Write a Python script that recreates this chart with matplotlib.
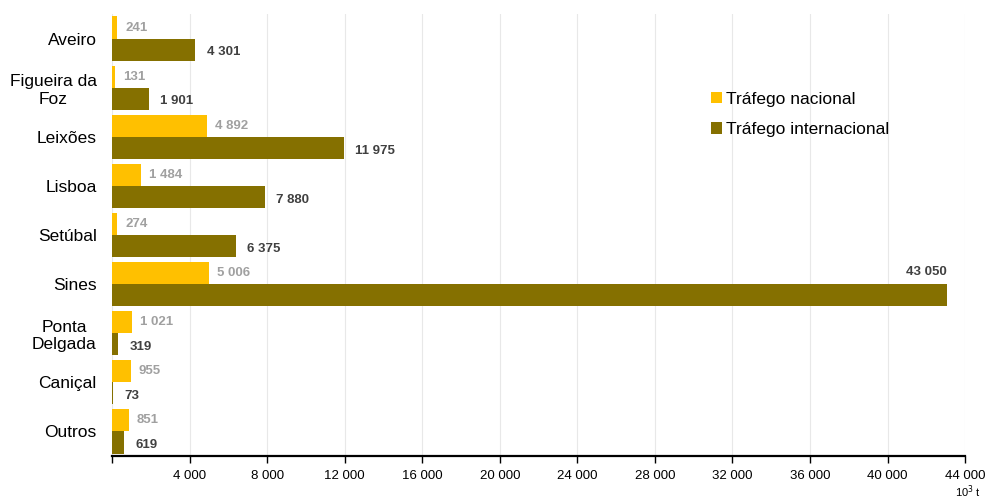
import matplotlib.pyplot as plt
import numpy as np

plt.rcParams['font.family'] = ['Liberation Sans', 'DejaVu Sans']

ports = ["Aveiro", "Figueira da\nFoz", "Leixões", "Lisboa", "Setúbal", "Sines",
         "Ponta\nDelgada", "Caniçal", "Outros"]
nacional = [241, 131, 4892, 1484, 274, 5006, 1021, 955, 851]
internacional = [4301, 1901, 11975, 7880, 6375, 43050, 319, 73, 619]
xticks = list(range(0, 44001, 4000))

c_nac = "#FFC000"
c_int = "#857000"


def fmt(v):
    return f"{v:,}".replace(",", " ")


fig = plt.figure(figsize=(9.86, 5.0), dpi=100)
ax = fig.add_axes([0.1136, 0.088, 0.8652, 0.884])

y = np.arange(len(ports))
h = 0.45
ax.barh(y - h / 2, nacional, height=h, color=c_nac, label="Tráfego nacional", zorder=2)
ax.barh(y + h / 2, internacional, height=h, color=c_int, label="Tráfego internacional", zorder=2)

for i, v in enumerate(nacional):
    ax.annotate(fmt(v), (v, y[i] - h / 2), xytext=(6, 0), textcoords="offset points",
                ha="left", va="center", fontsize=9.5, fontweight="bold", color="#a0a0a0")
for i, v in enumerate(internacional):
    if v > 30000:
        ax.annotate(fmt(v), (v, y[i] - h / 2 - 0.02), xytext=(0, 0), textcoords="offset points",
                    ha="right", va="center", fontsize=9.5, fontweight="bold", color="#404040")
    else:
        ax.annotate(fmt(v), (v, y[i] + h / 2), xytext=(8, -2), textcoords="offset points",
                    ha="left", va="center", fontsize=9.5, fontweight="bold", color="#404040")

ax.set_ylim(len(ports) - 0.5, -0.5)
ax.set_yticks(y)
ax.set_yticklabels(ports, fontsize=12.5)
for lab in ax.get_yticklabels():
    lab.set_multialignment("center")
ax.tick_params(axis="y", length=0, pad=11)

ax.set_xlim(0, 44000)
ax.set_xticks(xticks)
ax.set_xticklabels([""] + [fmt(t) for t in xticks[1:]], fontsize=9.5)
ax.tick_params(axis="x", length=5, width=1, pad=5, direction="out")

ax.grid(axis="x", color="#e8e8e8", linewidth=0.8, zorder=0)
ax.set_axisbelow(True)
for s in ["top", "right", "left"]:
    ax.spines[s].set_visible(False)
ax.spines["bottom"].set_linewidth(1.6)

ax.legend(loc="upper left", bbox_to_anchor=(0.684, 0.86), frameon=False, fontsize=12.5,
          handlelength=0.6, handleheight=0.6, handletextpad=0.25, labelspacing=0.9)

fig.text(0.995, 0.034, "10$^3$ t", ha="right", va="top", fontsize=8)

fig.savefig("out.png", dpi=100)
